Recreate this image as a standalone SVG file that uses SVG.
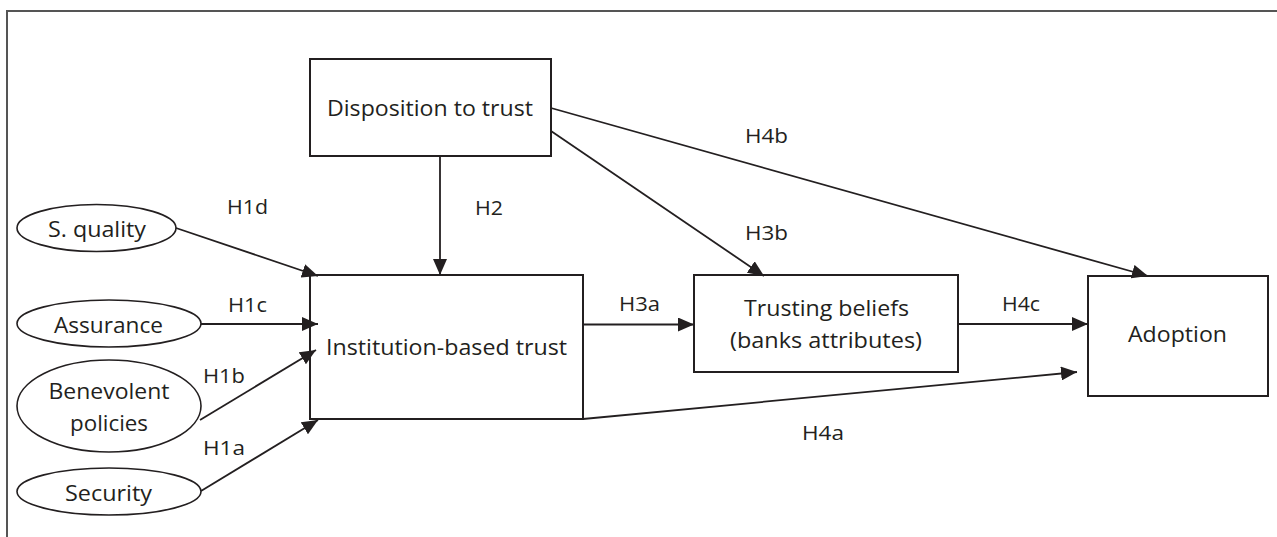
<svg xmlns="http://www.w3.org/2000/svg" width="1277" height="537" viewBox="0 0 1277 537">
  <defs>
    <marker id="arr" markerUnits="userSpaceOnUse" markerWidth="16" markerHeight="14" refX="16" refY="7" orient="auto">
      <path d="M0,0 L16,7 L0,14 z" fill="#231f20"/>
    </marker>
    <style>
      .box { fill: #ffffff; stroke: #231f20; stroke-width: 2; }
      .ell { fill: #ffffff; stroke: #231f20; stroke-width: 1.6; }
      .lbl { font-family: "Open Sans", "Liberation Sans", sans-serif; font-size: 22px; fill: #231f20; text-anchor: middle; }
      .h { font-family: "Open Sans", "Liberation Sans", sans-serif; font-size: 20px; fill: #231f20; }
      .conn line { stroke: #231f20; stroke-width: 1.8; marker-end: url(#arr); }
    </style>
  </defs>
  <rect width="1277" height="537" fill="#ffffff"/>
  <path d="M7,537 L7,11 L1277,11" fill="none" stroke="#555555" stroke-width="2"/>

  <g id="disposition">
    <rect class="box" x="310" y="59" width="241" height="97"/>
    <text class="lbl" x="430" y="116" textLength="206" lengthAdjust="spacingAndGlyphs">Disposition to trust</text>
  </g>
  <g id="institution">
    <rect class="box" x="310" y="275" width="273" height="144"/>
    <text class="lbl" x="446.5" y="355" textLength="241" lengthAdjust="spacingAndGlyphs">Institution-based trust</text>
  </g>
  <g id="trusting">
    <rect class="box" x="694" y="275" width="264" height="97"/>
    <text class="lbl" x="826.5" y="315.5" textLength="165" lengthAdjust="spacingAndGlyphs">Trusting beliefs</text>
    <text class="lbl" x="826" y="348" textLength="192" lengthAdjust="spacingAndGlyphs">(banks attributes)</text>
  </g>
  <g id="adoption">
    <rect class="box" x="1088" y="276" width="180" height="120"/>
    <text class="lbl" x="1177.5" y="342" textLength="99" lengthAdjust="spacingAndGlyphs">Adoption</text>
  </g>
  <g id="squality">
    <ellipse class="ell" cx="96.5" cy="228" rx="79.5" ry="23.5"/>
    <text class="lbl" x="97" y="237" textLength="98" lengthAdjust="spacingAndGlyphs">S. quality</text>
  </g>
  <g id="assurance">
    <ellipse class="ell" cx="109" cy="323.5" rx="92" ry="23.5"/>
    <text class="lbl" x="108.5" y="333" textLength="109" lengthAdjust="spacingAndGlyphs">Assurance</text>
  </g>
  <g id="benevolent">
    <ellipse class="ell" cx="109" cy="406" rx="92" ry="46"/>
    <text class="lbl" x="109" y="399" textLength="121" lengthAdjust="spacingAndGlyphs">Benevolent</text>
    <text class="lbl" x="109" y="431" textLength="78" lengthAdjust="spacingAndGlyphs">policies</text>
  </g>
  <g id="security">
    <ellipse class="ell" cx="109" cy="491.5" rx="92" ry="23.5"/>
    <text class="lbl" x="108.5" y="501" textLength="87" lengthAdjust="spacingAndGlyphs">Security</text>
  </g>

  <g id="connectors" class="conn">
    <line x1="176" y1="228" x2="318" y2="276"/>
    <line x1="440" y1="156" x2="440" y2="275"/>
    <line x1="201" y1="324" x2="318" y2="324"/>
    <line x1="200" y1="420" x2="316" y2="350"/>
    <line x1="201" y1="491" x2="318" y2="420"/>
    <line x1="583" y1="324.5" x2="694" y2="324.5"/>
    <line x1="551" y1="131" x2="764" y2="276"/>
    <line x1="551" y1="108" x2="1148" y2="276"/>
    <line x1="958" y1="324" x2="1088" y2="324"/>
    <line x1="583" y1="419" x2="1077" y2="372"/>
  </g>

  <g id="labels">
    <text class="h" x="227" y="214" textLength="41" lengthAdjust="spacingAndGlyphs">H1d</text>
    <text class="h" x="475" y="215" textLength="28" lengthAdjust="spacingAndGlyphs">H2</text>
    <text class="h" x="228" y="312" textLength="39" lengthAdjust="spacingAndGlyphs">H1c</text>
    <text class="h" x="203" y="383" textLength="42" lengthAdjust="spacingAndGlyphs">H1b</text>
    <text class="h" x="203" y="455" textLength="42" lengthAdjust="spacingAndGlyphs">H1a</text>
    <text class="h" x="745" y="143" textLength="43" lengthAdjust="spacingAndGlyphs">H4b</text>
    <text class="h" x="745" y="240" textLength="43" lengthAdjust="spacingAndGlyphs">H3b</text>
    <text class="h" x="619" y="311" textLength="41" lengthAdjust="spacingAndGlyphs">H3a</text>
    <text class="h" x="1002" y="311" textLength="38" lengthAdjust="spacingAndGlyphs">H4c</text>
    <text class="h" x="802" y="440" textLength="42" lengthAdjust="spacingAndGlyphs">H4a</text>
  </g>
</svg>
